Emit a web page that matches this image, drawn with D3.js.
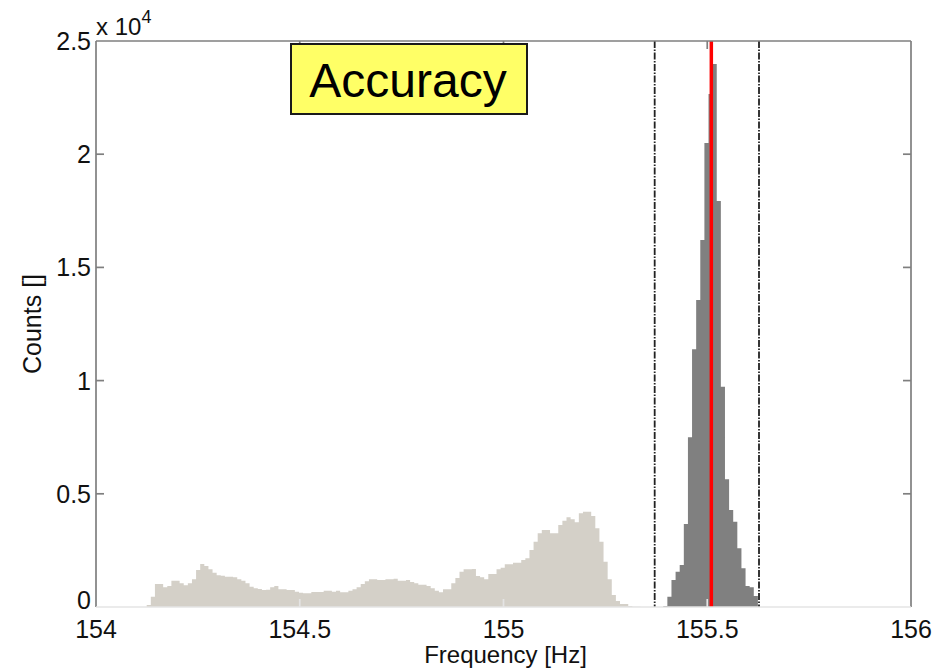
<!DOCTYPE html>
<html>
<head>
<meta charset="utf-8">
<script src="https://cdn.jsdelivr.net/npm/d3@7"></script>
<style>
  html, body { margin: 0; padding: 0; background: #fff; }
  svg { display: block; font-family: "Liberation Sans", Arial, sans-serif; }
</style>
</head>
<body>
<svg id="chart" width="943" height="670"></svg>
<script>
// Histogram bin layout (Hz)
const binWidth = 0.0101;

// Wide distribution (all estimates)
const lightStart = 154.1244;
const lightCounts = [
  88, 455, 1016, 1016, 870, 928, 1163, 1163, 1045, 957,
  1045, 1222, 1634, 1900, 1811, 1664, 1516, 1398, 1380, 1340,
  1340, 1310, 1222, 1163, 1045, 898, 824, 790, 751, 760,
  870, 928, 780, 780, 751, 751, 677, 633, 604, 604,
  663, 663, 663, 721, 721, 677, 721, 648, 648, 721,
  780, 870, 1016, 1134, 1222, 1222, 1193, 1193, 1222, 1222,
  1252, 1163, 1163, 1193, 1104, 1045, 986, 986, 928, 824,
  721, 648, 780, 780, 1045, 1281, 1560, 1664, 1664, 1678,
  1369, 1310, 1222, 1457, 1457, 1664, 1737, 1884, 1884, 1958,
  1958, 2076, 2150, 2518, 2886, 3254, 3401, 3401, 3254, 3254,
  3622, 3814, 3961, 3872, 3740, 4137, 4210, 4210, 4019, 3474,
  2886, 2003, 1222, 530, 265, 133, 133, 44, 15, 15
];

// Narrow distribution (accurate estimates)
const darkStart = 155.392;
const darkCounts = [
  44, 455, 1192, 1560, 1855, 3666, 7495, 11383, 13560, 16210,
  20495, 22659, 23984, 17933, 9728, 5640, 4284, 3768, 2591, 1708,
  927, 870, 486
];

// Reference frequency and acceptance bounds (Hz)
const refFreq = 155.510;
const bounds = [155.371, 155.627];

// Axes
const xTicks = [154, 154.5, 155, 155.5, 156];
const xTickLabels = ["154", "154.5", "155", "155.5", "156"];
const yTicks = [0, 5000, 10000, 15000, 20000, 25000];
const yTickLabels = ["0", "0.5", "1", "1.5", "2", "2.5"];

const svg = d3.select("#chart");
const plotLeft = 96, plotRight = 911, plotTop = 41, plotBottom = 607;

const x = d3.scaleLinear().domain([154, 156]).range([plotLeft, plotRight]);
const y = d3.scaleLinear().domain([0, 25000]).range([plotBottom, plotTop]);

// Build step outline points from bin start, width and counts
function steps(start, counts) {
  const pts = counts.map((c, i) => ({ f: start + i * binWidth, c }));
  pts.push({ f: start + counts.length * binWidth, c: counts[counts.length - 1] });
  return pts;
}

const area = d3.area()
  .x(d => x(d.f))
  .y0(y(0))
  .y1(d => y(d.c))
  .curve(d3.curveStepAfter);

svg.append("path")
  .datum(steps(lightStart, lightCounts))
  .attr("d", area)
  .attr("fill", "#d4d0c8");

svg.append("path")
  .datum(steps(darkStart, darkCounts))
  .attr("d", area)
  .attr("fill", "#808080");

// Acceptance bounds
svg.selectAll("line.bound")
  .data(bounds)
  .join("line")
  .attr("class", "bound")
  .attr("x1", d => x(d)).attr("x2", d => x(d))
  .attr("y1", plotTop).attr("y2", plotBottom)
  .attr("stroke", "#222")
  .attr("stroke-width", 1.8)
  .attr("stroke-dasharray", "7,1.5,1.5,1.5");

// Reference frequency
svg.append("line")
  .attr("x1", x(refFreq)).attr("x2", x(refFreq))
  .attr("y1", plotTop).attr("y2", plotBottom)
  .attr("stroke", "#ff0000")
  .attr("stroke-width", 3.5);

// Axes box
const axisColor = "#7f7f7f";
svg.append("line").attr("x1", plotLeft).attr("x2", plotRight).attr("y1", plotTop).attr("y2", plotTop)
  .attr("stroke", axisColor).attr("stroke-width", 1.7);
svg.append("line").attr("x1", plotLeft).attr("x2", plotLeft).attr("y1", plotTop).attr("y2", plotBottom)
  .attr("stroke", axisColor).attr("stroke-width", 1.7);
svg.append("line").attr("x1", plotRight).attr("x2", plotRight).attr("y1", plotTop).attr("y2", plotBottom)
  .attr("stroke", axisColor).attr("stroke-width", 1.7);
svg.append("line").attr("x1", plotLeft).attr("x2", plotRight).attr("y1", plotBottom).attr("y2", plotBottom)
  .attr("stroke", "#e4e4e4").attr("stroke-width", 1.7);

// Y ticks (left and right, inward) and labels
const tickLen = 8;
yTicks.forEach((t, i) => {
  if (i > 0 && i < yTicks.length - 1) {
    svg.append("line").attr("x1", plotLeft).attr("x2", plotLeft + tickLen)
      .attr("y1", y(t)).attr("y2", y(t)).attr("stroke", axisColor).attr("stroke-width", 1.7);
    svg.append("line").attr("x1", plotRight - tickLen).attr("x2", plotRight)
      .attr("y1", y(t)).attr("y2", y(t)).attr("stroke", axisColor).attr("stroke-width", 1.7);
  }
  svg.append("text")
    .attr("x", plotLeft - 5)
    .attr("y", y(t) + (i === 0 ? 2 : 9))
    .attr("text-anchor", "end")
    .attr("font-size", 25)
    .attr("fill", "#111")
    .text(yTickLabels[i]);
});

// X ticks (top, inward; bottom faint) and labels
xTicks.forEach((t, i) => {
  if (i > 0 && i < xTicks.length - 1) {
    svg.append("line").attr("x1", x(t)).attr("x2", x(t))
      .attr("y1", plotTop).attr("y2", plotTop + tickLen).attr("stroke", axisColor).attr("stroke-width", 1.7);
    svg.append("line").attr("x1", x(t)).attr("x2", x(t))
      .attr("y1", plotBottom - tickLen).attr("y2", plotBottom).attr("stroke", "#e4e4e4").attr("stroke-width", 1.7);
  }
  svg.append("text")
    .attr("x", x(t))
    .attr("y", plotBottom + 31)
    .attr("text-anchor", "middle")
    .attr("font-size", 25)
    .attr("fill", "#111")
    .text(xTickLabels[i]);
});

// Exponent annotation
const expo = svg.append("text").attr("x", plotLeft).attr("y", 35).attr("font-size", 24).attr("fill", "#111");
expo.append("tspan").text("x 10");
expo.append("tspan").attr("dy", -12).attr("font-size", 18).text("4");

// Axis titles
svg.append("text")
  .attr("x", (plotLeft + plotRight) / 2 + 2)
  .attr("y", 663)
  .attr("text-anchor", "middle")
  .attr("font-size", 24)
  .attr("fill", "#111")
  .text("Frequency [Hz]");

svg.append("text")
  .attr("transform", `translate(41,${(plotTop + plotBottom) / 2}) rotate(-90)`)
  .attr("text-anchor", "middle")
  .attr("font-size", 25)
  .attr("fill", "#111")
  .text("Counts []");

// Title box
svg.append("rect")
  .attr("x", 291).attr("y", 44).attr("width", 236).attr("height", 70)
  .attr("fill", "#ffff66").attr("stroke", "#1a1a1a").attr("stroke-width", 2);
svg.append("text")
  .attr("x", 408).attr("y", 97)
  .attr("text-anchor", "middle")
  .attr("font-size", 48)
  .attr("fill", "#000")
  .text("Accuracy");
</script>
</body>
</html>
